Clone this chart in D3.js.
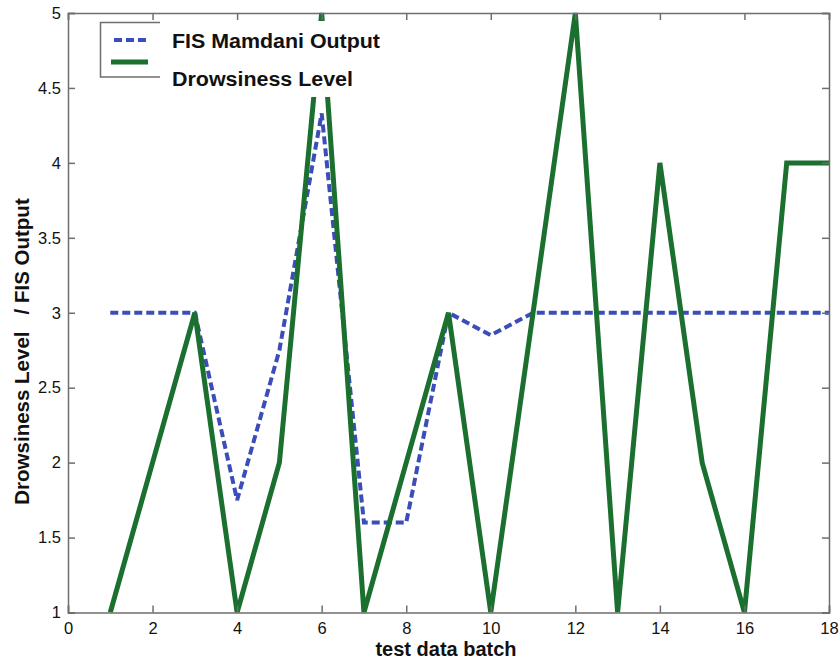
<!DOCTYPE html>
<html>
<head>
<meta charset="utf-8">
<script src="https://cdn.jsdelivr.net/npm/d3@7"></script>
<style>
  html, body { margin: 0; padding: 0; background: #fff; }
  svg { display: block; font-family: "Liberation Sans", Arial, sans-serif; }
</style>
</head>
<body>
<svg id="chart" width="839" height="663"></svg>
<script>
// Test batches 1..18
const batches = [1, 2, 3, 4, 5, 6, 7, 8, 9, 10, 11, 12, 13, 14, 15, 16, 17, 18];
// Mamdani fuzzy inference output per batch
const fisOutput = [3, 3, 3, 1.75, 2.75, 4.33, 1.6, 1.6, 3, 2.85, 3, 3, 3, 3, 3, 3, 3, 3];
// Observed drowsiness level per batch
const drowsiness = [1, 2, 3, 1, 2, 5, 1, 2, 3, 1, 3, 5, 1, 4, 2, 1, 4, 4];

const xTicks = [0, 2, 4, 6, 8, 10, 12, 14, 16, 18];
const yTicks = [1, 1.5, 2, 2.5, 3, 3.5, 4, 4.5, 5];
const yTickLabels = ["1", "1.5", "2", "2.5", "3", "3.5", "4", "4.5", "5"];

const legendLabels = ["FIS Mamdani Output", "Drowsiness Level"];

const svg = d3.select("#chart");
const boxLeft = 68, boxRight = 829, boxTop = 13, boxBottom = 612.5;

const x = d3.scaleLinear().domain([0, 18]).range([boxLeft, boxRight]);
const y = d3.scaleLinear().domain([1, 5]).range([boxBottom, boxTop]);

const axisColor = "#6e6e6e";
const green = "#1b6f2f";
const blue = "#3a4db8";

// clip to the axes box
svg.append("defs").append("clipPath").attr("id", "box")
  .append("rect").attr("x", boxLeft).attr("y", boxTop - 1)
  .attr("width", boxRight - boxLeft).attr("height", boxBottom - boxTop + 1);

const plot = svg.append("g");

const line = (vals) => d3.line()
  .x((d, i) => x(batches[i]))
  .y(d => y(d))(vals);

plot.append("path")
  .attr("d", line(fisOutput))
  .attr("fill", "none")
  .attr("stroke", blue)
  .attr("stroke-width", 4)
  .attr("stroke-dasharray", "8,4")
  .attr("clip-path", "url(#box)");

plot.append("path")
  .attr("d", line(drowsiness))
  .attr("fill", "none")
  .attr("stroke", green)
  .attr("stroke-width", 5)
  .attr("stroke-linejoin", "miter")
  .attr("clip-path", "url(#box)");

// box axes with inward ticks on every side
const tickLen = 7;
const axesG = svg.append("g");

const bottomAxis = d3.axisBottom(x).tickValues(xTicks).tickSize(-tickLen).tickPadding(10).tickFormat(d3.format("d"));
const topAxis = d3.axisTop(x).tickValues(xTicks).tickSize(-tickLen).tickFormat("");
const leftAxis = d3.axisLeft(y).tickValues(yTicks).tickSize(-tickLen).tickPadding(7)
  .tickFormat((d, i) => yTickLabels[i]);
const rightAxis = d3.axisRight(y).tickValues(yTicks).tickSize(-tickLen).tickFormat("");

function styleAxis(g) {
  g.select(".domain").attr("stroke", axisColor).attr("stroke-width", 1.5);
  g.selectAll(".tick line").attr("stroke", axisColor).attr("stroke-width", 1.5);
  g.selectAll(".tick text").attr("fill", "#111").attr("font-size", 16.5)
    .attr("font-family", "'Liberation Sans', Arial, sans-serif");
}

axesG.append("g").attr("transform", `translate(0,${boxBottom})`).call(bottomAxis).call(styleAxis);
axesG.append("g").attr("transform", `translate(0,${boxTop})`).call(topAxis).call(styleAxis);
axesG.append("g").attr("transform", `translate(${boxLeft},0)`).call(leftAxis).call(styleAxis);
axesG.append("g").attr("transform", `translate(${boxRight},0)`).call(rightAxis).call(styleAxis);

// legend: white panel, with a short frame around the sample lines
const lg = svg.append("g");
lg.append("rect").attr("x", 100).attr("y", 21).attr("width", 288).attr("height", 76).attr("fill", "#fff");
lg.append("path")
  .attr("d", "M160,22.5 H100.5 V77 H160")
  .attr("fill", "none").attr("stroke", axisColor).attr("stroke-width", 1.5);

lg.append("line").attr("x1", 114).attr("x2", 146).attr("y1", 40).attr("y2", 40)
  .attr("stroke", blue).attr("stroke-width", 4).attr("stroke-dasharray", "8,4");
lg.append("line").attr("x1", 111).attr("x2", 148).attr("y1", 62).attr("y2", 62)
  .attr("stroke", green).attr("stroke-width", 5);

const legendWidths = [208, 181];
lg.selectAll("text.leg").data(legendLabels).enter().append("text")
  .attr("class", "leg")
  .attr("x", 172)
  .attr("y", (d, i) => 47.5 + i * 38)
  .attr("font-size", 19.5).attr("font-weight", "bold").attr("fill", "#111")
  .attr("textLength", (d, i) => legendWidths[i])
  .attr("lengthAdjust", "spacingAndGlyphs")
  .text(d => d);

// axis titles
svg.append("text")
  .attr("x", 446).attr("y", 656)
  .attr("text-anchor", "middle")
  .attr("font-size", 20).attr("font-weight", "bold").attr("fill", "#111")
  .text("test data batch");

svg.append("text")
  .attr("transform", "translate(29,351.5) rotate(-90)")
  .attr("text-anchor", "middle")
  .attr("font-size", 20.5).attr("font-weight", "bold").attr("fill", "#111")
  .style("white-space", "pre")
  .text("Drowsiness Level   / FIS Output");
</script>
</body>
</html>
